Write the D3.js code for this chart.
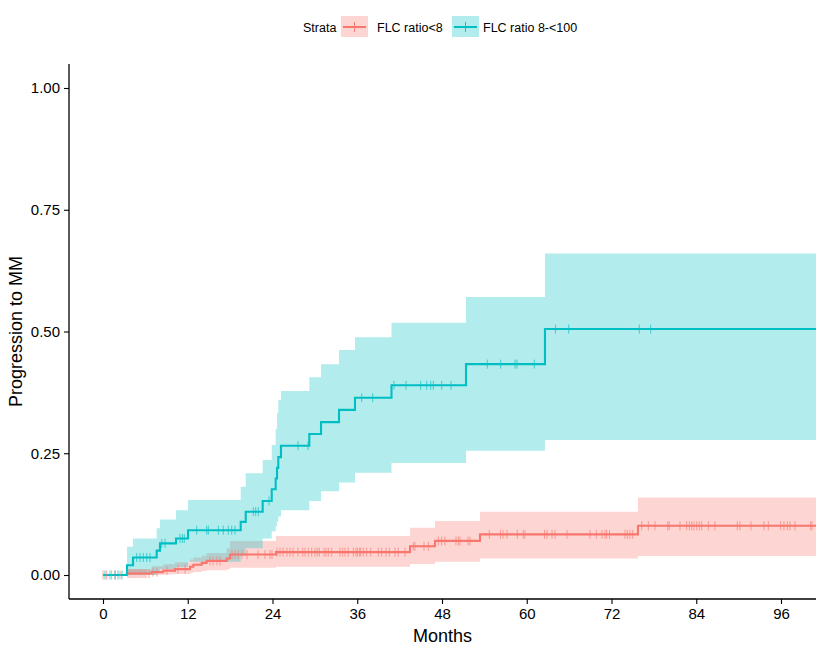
<!DOCTYPE html>
<html><head><meta charset="utf-8">
<script src="https://cdn.jsdelivr.net/npm/d3@7/dist/d3.min.js"></script>
<style>body{margin:0;background:#fff;}svg{display:block;font-family:"Liberation Sans",Arial,sans-serif;}</style>
</head><body>
<svg id="c" width="823" height="654"></svg>
<script>
// ---- data (months, cumulative incidence) ----
const strata = ["FLC ratio<8", "FLC ratio 8-<100"];
const colors = ["#F8766D", "#00BFC4"];
const xTicks = [0, 12, 24, 36, 48, 60, 72, 84, 96];
const yTicks = [0, 0.25, 0.5, 0.75, 1.0];
const endTime = 100.96;

// FLC ratio<8
const redTime  = [0, 3.36, 6.90, 8.54, 10.19, 12.32, 12.79, 13.98, 14.68, 17.52, 17.98, 24.50, 43.47, 47.01, 53.38, 75.75];
const redEst   = [0, 0.003, 0.006, 0.009, 0.012, 0.017, 0.021, 0.025, 0.029, 0.034, 0.042, 0.047, 0.059, 0.070, 0.0835, 0.101];
const redUpper = [0, 0.012, 0.018, 0.022, 0.026, 0.032, 0.036, 0.040, 0.045, 0.055, 0.070, 0.080, 0.097, 0.111, 0.130, 0.159];
const redLower = [0, 0, 0, 0.001, 0.002, 0.004, 0.006, 0.008, 0.010, 0.012, 0.015, 0.017, 0.0225, 0.027, 0.034, 0.039];
const redCensor = [0.0, 0.52, 1.23, 1.70, 2.41, 3.54, 3.82, 4.11, 4.39, 4.67, 4.96, 5.24, 5.52, 5.81, 6.09, 6.51,
  7.08, 7.65, 9.06, 10.62, 11.61, 15.15, 15.58, 16.14, 16.57,
  18.27, 18.69, 19.12, 19.68, 20.39, 21.95, 22.94, 23.65, 23.93, 24.64, 25.06, 25.49, 26.05, 26.48, 26.90, 27.61,
  28.28, 28.60, 29.07, 29.55, 30.02, 30.34, 30.63, 31.29, 31.58, 31.90, 32.38, 33.56, 33.94, 34.27, 34.73, 35.44,
  35.82, 36.01, 36.29, 36.49, 36.86, 37.34, 37.90, 38.98, 39.46, 40.07, 40.54, 41.35, 41.81, 42.76,
  43.94, 44.18, 45.45, 46.06, 47.48, 47.96, 48.42, 49.98, 50.31, 50.55, 51.68, 51.96,
  54.70, 56.28, 56.64, 57.20, 58.66, 59.51, 59.75, 62.51, 62.87, 63.58, 64.00, 65.70, 68.96, 69.85, 70.65, 71.08,
  71.32, 71.72, 73.91, 74.24, 74.62, 75.00,
  76.28, 77.21, 78.16, 79.96, 80.18, 81.70, 82.65, 83.02, 83.36, 83.68, 84.07, 84.43, 84.77, 85.71, 86.65, 89.81,
  90.19, 91.75, 93.59, 94.20, 95.96, 96.42, 96.89, 97.27, 97.98, 100.20, 100.39];

// FLC ratio 8-<100
const tealTime  = [0, 3.40, 4.25, 7.60, 8.07, 10.34, 12.04, 19.50, 20.21, 22.61, 23.89, 24.45, 24.64, 24.82, 25.20, 29.21, 30.87, 33.42, 35.68, 40.85, 51.40, 62.58];
const tealEst   = [0, 0.020, 0.036, 0.050, 0.065, 0.075, 0.092, 0.109, 0.130, 0.152, 0.176, 0.198, 0.220, 0.242, 0.2655, 0.2895, 0.314, 0.339, 0.364, 0.3895, 0.433, 0.505];
const tealUpper = [0, 0.058, 0.075, 0.096, 0.114, 0.133, 0.154, 0.181, 0.209, 0.236, 0.267, 0.300, 0.333, 0.360, 0.378, 0.406, 0.433, 0.462, 0.488, 0.518, 0.571, 0.660];
const tealLower = [0, 0, 0, 0.008, 0.012, 0.016, 0.027, 0.040, 0.055, 0.075, 0.090, 0.100, 0.110, 0.120, 0.133, 0.152, 0.172, 0.190, 0.210, 0.230, 0.255, 0.277];
const tealCensor = [0.28, 0.99, 1.70, 2.12, 2.69, 4.77, 5.24, 5.71, 6.19, 6.65, 8.31, 8.78, 10.90, 11.23, 11.51,
  13.27, 14.68, 14.91, 16.33, 17.03, 17.74, 18.22, 18.69, 21.28, 21.62, 21.99, 23.50, 27.61, 29.03,
  36.63, 38.19, 41.20, 42.90, 44.98, 45.83, 46.40, 46.77, 47.96, 49.27,
  54.41, 56.31, 58.34, 58.62, 61.07, 64.07, 65.94, 75.94, 77.55];

const series = [
  {name: strata[0], color: colors[0], time: redTime, est: redEst, up: redUpper, lo: redLower, cens: redCensor},
  {name: strata[1], color: colors[1], time: tealTime, est: tealEst, up: tealUpper, lo: tealLower, cens: tealCensor}
];

// ---- layout ----
const svg = d3.select("#c");
const panel = {left: 69, right: 816, top: 64, bottom: 599};
const x = d3.scaleLinear().domain([0, 96]).range([103, 781]);
const y = d3.scaleLinear().domain([0, 1]).range([575, 88]);

svg.append("defs").append("clipPath").attr("id", "clip")
  .append("rect").attr("x", panel.left).attr("y", panel.top)
  .attr("width", panel.right - panel.left).attr("height", panel.bottom - panel.top);

const g = svg.append("g").attr("clip-path", "url(#clip)");

function pts(s, key) {
  const p = s.time.map((t, i) => ({t: t, v: s[key][i], u: s.up[i], l: s.lo[i]}));
  const last = p[p.length - 1];
  p.push({t: endTime, v: last.v, u: last.u, l: last.l});
  return p;
}
function stepVal(s, t) {
  let v = 0;
  for (let i = 0; i < s.time.length; i++) if (s.time[i] <= t) v = s.est[i];
  return v;
}

// ribbons
series.forEach(s => {
  const area = d3.area().curve(d3.curveStepAfter)
    .x(d => x(d.t)).y0(d => y(d.l)).y1(d => y(d.u));
  g.append("path").datum(pts(s, "est")).attr("d", area)
    .attr("fill", s.color).attr("fill-opacity", 0.3).attr("stroke", "none");
});
// lines
series.forEach(s => {
  const line = d3.line().curve(d3.curveStepAfter).x(d => x(d.t)).y(d => y(d.v));
  g.append("path").datum(pts(s, "est")).attr("d", line)
    .attr("fill", "none").attr("stroke", s.color).attr("stroke-width", 2.1);
});
// censor marks
series.forEach(s => {
  g.selectAll(null).data(s.cens).enter().append("line")
    .attr("x1", d => x(d)).attr("x2", d => x(d))
    .attr("y1", d => y(stepVal(s, d)) - 4.5).attr("y2", d => y(stepVal(s, d)) + 4.5)
    .attr("stroke", s.color).attr("stroke-width", 0.8).attr("stroke-opacity", 0.85);
});

// axes
const xAxis = d3.axisBottom(x).tickValues(xTicks).tickSize(5).tickPadding(4).tickFormat(d3.format("d"));
const yAxis = d3.axisLeft(y).tickValues(yTicks).tickSize(5).tickPadding(4).tickFormat(d3.format(".2f"));
const gx = svg.append("g").attr("transform", `translate(0,${panel.bottom})`).call(xAxis);
const gy = svg.append("g").attr("transform", `translate(${panel.left},0)`).call(yAxis);
[gx, gy].forEach(a => {
  a.select(".domain").remove();
  a.selectAll("line").attr("stroke", "#000").attr("stroke-width", 1.1);
  a.selectAll("text").attr("fill", "#000").style("font-size", "15px")
    .style("font-family", '"Liberation Sans", Arial, sans-serif');
});
svg.append("line").attr("x1", panel.left).attr("x2", panel.right)
  .attr("y1", panel.bottom).attr("y2", panel.bottom).attr("stroke", "#000").attr("stroke-width", 1.3);
svg.append("line").attr("x1", panel.left).attr("x2", panel.left)
  .attr("y1", panel.top).attr("y2", panel.bottom).attr("stroke", "#000").attr("stroke-width", 1.3);

// titles
svg.append("text").attr("x", (panel.left + panel.right) / 2).attr("y", 642)
  .attr("text-anchor", "middle").style("font-size", "18px").attr("fill", "#000").text("Months");
svg.append("text").attr("transform", `translate(22,${(panel.top + panel.bottom) / 2}) rotate(-90)`)
  .attr("text-anchor", "middle").style("font-size", "18px").attr("fill", "#000").text("Progression to MM");

// legend
const lg = svg.append("g");
lg.append("text").attr("x", 303).attr("y", 32).style("font-size", "12.5px").attr("fill", "#000").text("Strata");
const keyX = [341, 452];
const txtX = [377, 483];
series.forEach((s, i) => {
  lg.append("rect").attr("x", keyX[i]).attr("y", 16).attr("width", 27).attr("height", 21)
    .attr("fill", s.color).attr("fill-opacity", 0.3);
  lg.append("line").attr("x1", keyX[i] + 2).attr("x2", keyX[i] + 25).attr("y1", 27).attr("y2", 27)
    .attr("stroke", s.color).attr("stroke-width", 2);
  lg.append("line").attr("x1", keyX[i] + 13.5).attr("x2", keyX[i] + 13.5).attr("y1", 22).attr("y2", 32)
    .attr("stroke", s.color).attr("stroke-width", 0.9);
  lg.append("text").attr("x", txtX[i]).attr("y", 32).style("font-size", "12.5px").attr("fill", "#000").text(s.name);
});
</script>
</body></html>
